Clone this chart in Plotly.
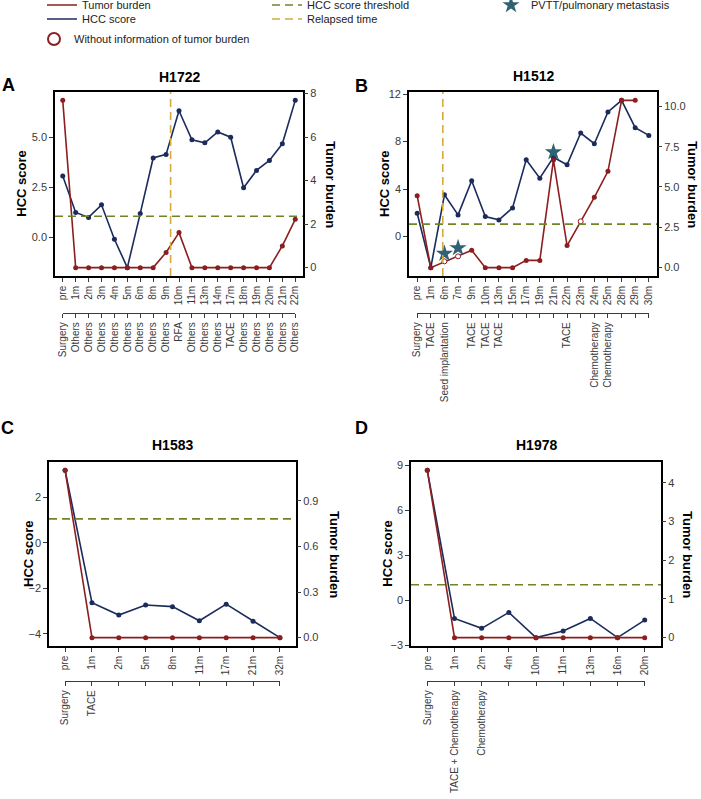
import plotly.graph_objects as go

# -------------------------
# Data
# -------------------------
A_TIMES = ["pre", "1m", "2m", "3m", "4m", "5m", "6m", "8m", "9m", "10m",
           "11m", "13m", "14m", "17m", "18m", "19m", "20m", "21m", "22m"]
A_TREAT = ["Surgery", "Others", "Others", "Others", "Others", "Others", "Others",
           "Others", "Others", "RFA", "Others", "Others", "Others", "TACE",
           "Others", "Others", "Others", "Others", "Others"]
A_HCC = [3.06, 1.24, 0.99, 1.62, -0.10, -1.52, 1.19, 3.96, 4.14, 6.32,
         4.87, 4.72, 5.26, 5.00, 2.47, 3.34, 3.84, 4.67, 6.84]
A_TUMOR = [7.69, 0, 0, 0, 0, 0, 0, 0, 0.70, 1.61,
           0, 0, 0, 0, 0, 0, 0, 1.00, 2.22]
A_RELAPSE = 8.35  # category index of relapse

B_TIMES = ["pre", "1m", "6m", "7m", "9m", "10m", "13m", "15m", "17m", "19m",
           "21m", "22m", "23m", "24m", "25m", "28m", "29m", "30m"]
B_TREAT = ["Surgery", "TACE", "Seed implantation", "", "TACE", "TACE", "TACE",
           "", "", "", "", "TACE", "", "Chemotherapy", "Chemotherapy", "", "", ""]
B_HCC = [1.97, -2.61, 3.52, 1.83, 4.70, 1.69, 1.41, 2.42, 6.47, 4.92,
         6.68, 6.05, 8.72, 7.82, 10.49, 11.47, 9.17, 8.52]
B_TUMOR = [4.46, 0, None, None, 1.08, 0, 0, 0, 0.45, 0.45,
           6.68, 1.37, None, 4.36, 5.97, 10.37, 10.37, None]
B_TUMOR_NA = [None, None, 0.39, 0.70, None, None, None, None, None, None,
              None, None, 2.87, None, None, None, None, None]
B_STARS = [None, None, 0.87, 1.22, None, None, None, None, None, None,
           7.16, None, None, None, None, None, None, None]
B_RELAPSE = 1.88

C_TIMES = ["pre", "1m", "2m", "5m", "8m", "11m", "17m", "21m", "32m"]
C_TREAT = ["Surgery", "TACE", "", "", "", "", "", "", ""]
C_HCC = [3.18, -2.63, -3.17, -2.73, -2.80, -3.42, -2.69, -3.44, -4.16]
C_TUMOR = [1.10, 0, 0, 0, 0, 0, 0, 0, 0]

D_TIMES = ["pre", "1m", "2m", "4m", "10m", "11m", "13m", "16m", "20m"]
D_TREAT = ["Surgery", "TACE + Chemotherapy", "Chemotherapy", "", "", "", "", "", ""]
D_HCC = [8.66, -1.19, -1.85, -0.79, -2.47, -2.03, -1.19, -2.47, -1.30]
D_TUMOR = [4.32, 0, 0, 0, 0, 0, 0, 0, 0]

HCC_THRESHOLD = 1.05

# -------------------------
# Style / layout config
# -------------------------
W, H = 701, 799
FONT = "Liberation Sans, Arial, sans-serif"
RED = "#8B1F1F"
NAVY = "#1B2B5C"
GREEN = "#6E8527"
GOLD = "#D6A93C"
TEAL = "#2F6275"
TICK_C = "#3a3a3a"

# pixel geometry of each panel
GEOM = {
    "A": dict(x0=55, x1=303, y0=92, y1=276, br=313, lt=21.7, rt=330, lx=8, ly=85, ty=77),
    "B": dict(x0=409, x1=657, y0=92, y1=276, br=313, lt=385, rt=692, lx=361, ly=86, ty=76),
    "C": dict(x0=49, x1=296, y0=462, y1=646, br=681, lt=28, rt=335, lx=7, ly=428, ty=445),
    "D": dict(x0=411, x1=661, y0=462, y1=646, br=681, lt=386.7, rt=688, lx=361, ly=428, ty=445),
}

PANELS = [
    dict(key="A", title="H1722", times=A_TIMES, treat=A_TREAT, hcc=A_HCC, tumor=A_TUMOR,
         na=None, stars=None, relapse=A_RELAPSE, ldtick=2.5, lfmt=".1f", rdtick=2, rfmt=""),
    dict(key="B", title="H1512", times=B_TIMES, treat=B_TREAT, hcc=B_HCC, tumor=B_TUMOR,
         na=B_TUMOR_NA, stars=B_STARS, relapse=B_RELAPSE, ldtick=4, lfmt="", rdtick=2.5, rfmt=".1f"),
    dict(key="C", title="H1583", times=C_TIMES, treat=C_TREAT, hcc=C_HCC, tumor=C_TUMOR,
         na=None, stars=None, relapse=None, ldtick=2, lfmt="", rdtick=0.3, rfmt=".1f"),
    dict(key="D", title="H1978", times=D_TIMES, treat=D_TREAT, hcc=D_HCC, tumor=D_TUMOR,
         na=None, stars=None, relapse=None, ldtick=3, lfmt="", rdtick=1, rfmt=""),
]


def fx(v):
    return v / W


def fy(v):
    return 1 - v / H


def padded(vals):
    v = [x for x in vals if x is not None]
    lo, hi = min(v), max(v)
    pad = 0.05 * (hi - lo)
    return [lo - pad, hi + pad]


def sx(i):
    return "" if i == 1 else str(i)


fig = go.Figure()
layout = {}
shapes = []
annotations = []

for k, p in enumerate(PANELS):
    g = GEOM[p["key"]]
    n = len(p["times"])
    xm, xt = 2 * k + 1, 2 * k + 2      # main x, treatment x
    yl, yr = 2 * k + 1, 2 * k + 2      # left y, right y
    first = k == 0

    # --- HCC score (left axis)
    fig.add_trace(go.Scatter(
        x=p["times"], y=p["hcc"], mode="lines", name="HCC score",
        line=dict(color=NAVY, width=1.6), xaxis="x" + sx(xm), yaxis="y" + sx(yl),
        showlegend=first, legend="legend2", hoverinfo="skip"))
    fig.add_trace(go.Scatter(
        x=p["times"], y=p["hcc"], mode="markers", marker=dict(color=NAVY, size=5),
        xaxis="x" + sx(xm), yaxis="y" + sx(yl), showlegend=False, hoverinfo="skip"))

    # --- Tumor burden (right axis)
    fig.add_trace(go.Scatter(
        x=p["times"], y=p["tumor"], mode="lines", name="Tumor burden", connectgaps=True,
        line=dict(color=RED, width=1.6), xaxis="x" + sx(xm), yaxis="y" + sx(yr),
        showlegend=first, legend="legend", hoverinfo="skip"))
    fig.add_trace(go.Scatter(
        x=p["times"], y=p["tumor"], mode="markers", marker=dict(color=RED, size=5),
        xaxis="x" + sx(xm), yaxis="y" + sx(yr), showlegend=False, hoverinfo="skip"))

    if p["na"] is not None:
        fig.add_trace(go.Scatter(
            x=p["times"], y=p["na"], mode="markers", name="Without information of tumor burden",
            marker=dict(color="white", size=5, line=dict(color=RED, width=1)),
            xaxis="x" + sx(xm), yaxis="y" + sx(yr), showlegend=True, legend="legend3",
            hoverinfo="skip"))
    if p["stars"] is not None:
        fig.add_trace(go.Scatter(
            x=p["times"], y=p["stars"], mode="markers", name="PVTT/pulmonary metastasis",
            marker=dict(color=TEAL, size=13, symbol="star"),
            xaxis="x" + sx(xm), yaxis="y" + sx(yr), showlegend=True, legend="legend6",
            hoverinfo="skip"))

    # empty trace so the treatment axis gets drawn
    fig.add_trace(go.Scatter(
        x=list(range(n)), y=[None] * n, mode="markers", xaxis="x" + sx(xt),
        yaxis="y" + sx(yl), showlegend=False, hoverinfo="skip"))

    # --- axes
    dom_x = [fx(g["x0"]), fx(g["x1"])]
    dom_y = [fy(g["y1"]), fy(g["y0"])]
    step = (dom_x[1] - dom_x[0]) / (n + 0.2)
    layout["xaxis" + sx(xm)] = dict(
        domain=dom_x, anchor="y" + sx(yl), type="category", categoryorder="array",
        categoryarray=p["times"], tickmode="array", tickvals=p["times"], ticktext=p["times"],
        range=[-0.6, n - 0.4], showline=True, mirror=True, linecolor="black", linewidth=1.6,
        ticks="outside", ticklen=4, tickcolor=TICK_C, tickangle=-90, showgrid=False,
        tickfont=dict(size=10, color=TICK_C))
    layout["xaxis" + sx(xt)] = dict(
        domain=[dom_x[0] + 0.6 * step, dom_x[1] - 0.6 * step], anchor="free",
        position=fy(g["br"]), range=[-0.001, n - 1 + 0.001], tickmode="array",
        tickvals=list(range(n)), ticktext=p["treat"], showline=True, linecolor=TICK_C,
        linewidth=1.4, ticks="outside", ticklen=4, tickcolor=TICK_C, tickangle=-90,
        showgrid=False, zeroline=False, tickfont=dict(size=10, color=TICK_C))
    layout["yaxis" + sx(yl)] = dict(
        domain=dom_y, anchor="x" + sx(xm), range=padded(p["hcc"]), dtick=p["ldtick"],
        tickformat=p["lfmt"], showline=True, mirror=True, linecolor="black", linewidth=1.6,
        ticks="outside", ticklen=4, tickcolor=TICK_C, showgrid=False, zeroline=False,
        tickfont=dict(size=11, color=TICK_C))
    layout["yaxis" + sx(yr)] = dict(
        overlaying="y" + sx(yl), side="right", anchor="x" + sx(xm), range=padded(p["tumor"]),
        dtick=p["rdtick"], tickformat=p["rfmt"], showline=False, ticks="outside",
        ticklen=4, tickcolor=TICK_C, showgrid=False, zeroline=False,
        tickfont=dict(size=11, color=TICK_C))

    # --- threshold and relapse lines
    shapes.append(dict(
        type="line", xref="x" + sx(xm) + " domain", yref="y" + sx(yl), x0=0, x1=1,
        y0=HCC_THRESHOLD, y1=HCC_THRESHOLD, line=dict(color=GREEN, width=1.6, dash="8px,5px"),
        showlegend=first, legend="legend4", name="HCC score threshold"))
    if p["relapse"] is not None:
        shapes.append(dict(
            type="line", xref="x" + sx(xm), yref="y" + sx(yl) + " domain",
            x0=p["relapse"], x1=p["relapse"], y0=0, y1=1,
            line=dict(color=GOLD, width=1.6, dash="8px,5px"),
            showlegend=first, legend="legend5", name="Relapsed time"))

    # --- texts
    cy = fy((g["y0"] + g["y1"]) / 2)
    txt = dict(xref="paper", yref="paper", showarrow=False, xanchor="center", yanchor="middle")
    annotations += [
        dict(txt, text="<b>%s</b>" % p["key"], x=fx(g["lx"]), y=fy(g["ly"]),
             font=dict(size=18, color="black")),
        dict(txt, text="<b>%s</b>" % p["title"], x=(dom_x[0] + dom_x[1]) / 2, y=fy(g["ty"]),
             font=dict(size=14, color="black")),
        dict(txt, text="<b>HCC score</b>", x=fx(g["lt"]), y=cy, textangle=-90,
             font=dict(size=13, color="black")),
        dict(txt, text="<b>Tumor burden</b>", x=fx(g["rt"]), y=cy, textangle=90,
             font=dict(size=13, color="black")),
    ]

legend_base = dict(xanchor="left", yanchor="middle", bgcolor="rgba(0,0,0,0)",
                   font=dict(size=11, color="#222"), itemwidth=30)
layout.update(
    width=W, height=H,
    margin=dict(l=0, r=0, t=0, b=0, autoexpand=False),
    paper_bgcolor="white", plot_bgcolor="rgba(0,0,0,0)",
    font=dict(family=FONT, color="#222"),
    shapes=shapes, annotations=annotations,
    legend=dict(legend_base, x=fx(42), y=fy(5)),
    legend2=dict(legend_base, x=fx(42), y=fy(19)),
    legend3=dict(legend_base, x=fx(34), y=fy(39), itemsizing="constant"),
    legend4=dict(legend_base, x=fx(267), y=fy(5)),
    legend5=dict(legend_base, x=fx(267), y=fy(19)),
    legend6=dict(legend_base, x=fx(491), y=fy(5)),
)
fig.update_layout(**layout)

# drop the default page margin so the figure sits at the window corner
fig.write_html("out.html", config={"displayModeBar": False},
               post_script="document.body.style.margin='0';")
